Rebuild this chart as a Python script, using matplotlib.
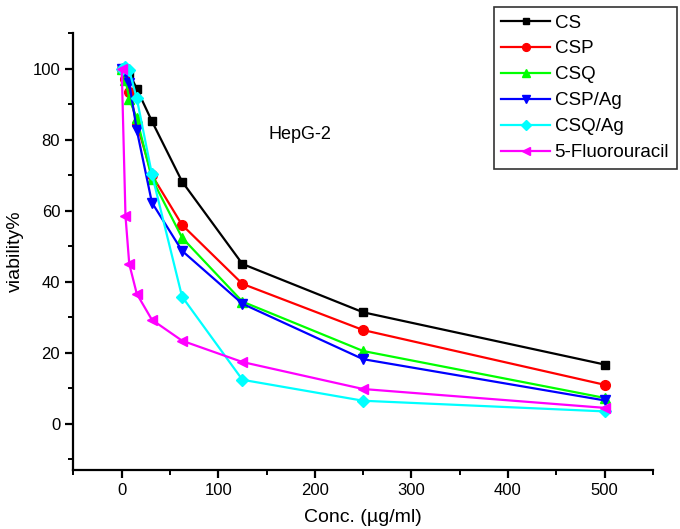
import matplotlib
matplotlib.use('Agg')
import matplotlib.pyplot as plt
from matplotlib.ticker import MultipleLocator

plt.rcParams['font.family'] = ['Liberation Sans', 'DejaVu Sans']

# concentrations (ug/ml)
conc = [0, 3.9, 7.8, 15.6, 31.25, 62.5, 125, 250, 500]

# viability % per sample
cs = [100, 99.5, 98.8, 94.3, 85.2, 68.2, 45.0, 31.4, 16.7]
csp = [100, 97.0, 93.5, 84.5, 70.0, 56.0, 39.4, 26.4, 11.0]
csq = [100, 96.8, 91.5, 86.0, 69.0, 52.4, 34.4, 20.5, 7.3]
csp_ag = [100, 99.0, 96.0, 82.7, 62.3, 48.7, 33.8, 18.2, 6.6]
csq_ag = [100, 100.5, 99.5, 91.6, 70.3, 35.8, 12.4, 6.5, 3.5]
fu = [100, 58.5, 45.0, 36.6, 29.3, 23.4, 17.4, 9.8, 4.5]

labels = ['CS', 'CSP', 'CSQ', 'CSP/Ag', 'CSQ/Ag', '5-Fluorouracil']
series = [cs, csp, csq, csp_ag, csq_ag, fu]
colors = ['#000000', '#FF0000', '#00FF00', '#0000FF', '#00FFFF', '#FF00FF']
markers = ['s', 'o', '^', 'v', 'D', '<']
msizes = [6, 7, 7, 7, 6, 7]

fig = plt.figure(figsize=(6.8, 5.29), dpi=100)
ax = fig.add_axes([0.108, 0.1115, 0.852, 0.826])

for y, lab, c, m, ms in zip(series, labels, colors, markers, msizes):
    ax.plot(conc, y, color=c, marker=m, markersize=ms, linewidth=1.6, label=lab)

ax.set_xlim(-50, 550)
ax.set_ylim(-13, 110)
ax.xaxis.set_major_locator(MultipleLocator(100))
ax.xaxis.set_minor_locator(MultipleLocator(50))
ax.yaxis.set_major_locator(MultipleLocator(20))
ax.yaxis.set_minor_locator(MultipleLocator(10))
ax.spines['top'].set_visible(False)
ax.spines['right'].set_visible(False)
for s in ['left', 'bottom']:
    ax.spines[s].set_linewidth(1.6)
ax.tick_params(which='major', direction='out', length=6, width=1.6, labelsize=12)
ax.tick_params(which='minor', direction='out', length=3.5, width=1.4)

ax.set_xlabel('Conc. (µg/ml)', fontsize=14, labelpad=8)
ax.set_ylabel('viability%', fontsize=14, labelpad=6)

ax.text(185, 81.5, 'HepG-2', fontsize=13, ha='center', va='center')

leg = fig.legend(loc='upper left', bbox_to_anchor=(0.726, 0.987), frameon=True,
                 fancybox=False, edgecolor='black', handlelength=2.6,
                 borderaxespad=0, borderpad=0.4, labelspacing=0.47,
                 handletextpad=0.25, markerscale=0.8, prop={'size': 13.5})
leg.get_frame().set_linewidth(1.2)

fig.savefig('out.png', dpi=100)
